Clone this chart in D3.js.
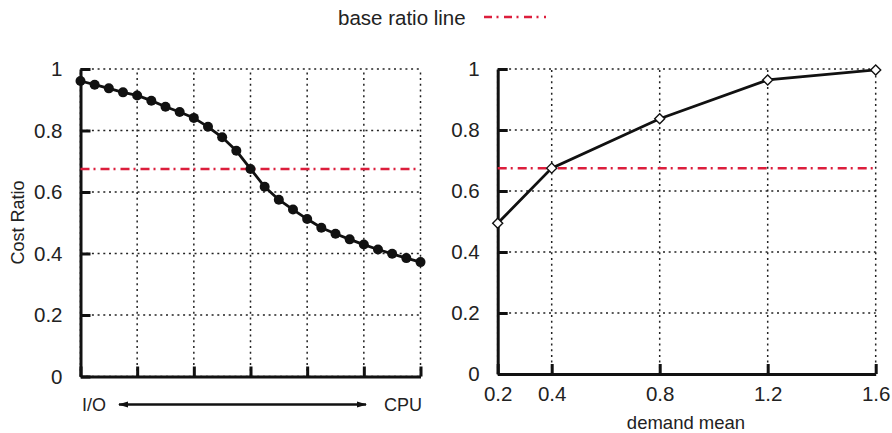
<!DOCTYPE html>
<html>
<head>
<meta charset="utf-8">
<script src="https://cdn.jsdelivr.net/npm/d3@7"></script>
<style>
  html, body { margin: 0; padding: 0; background: #fff; }
  svg { display: block; font-family: "Liberation Sans", Arial, Helvetica, sans-serif; }
</style>
</head>
<body>
<svg id="chart" width="892" height="433"></svg>
<script>
// ---------- data ----------
const mixSteps = [0,1,2,3,4,5,6,7,8,9,10,11,12,13,14,15,16,17,18,19,20,21,22,23,24];
const mixCostRatio = [0.961,0.949,0.937,0.924,0.914,0.897,0.877,0.860,0.841,0.812,0.778,0.734,0.675,
                      0.617,0.575,0.543,0.512,0.484,0.464,0.446,0.429,0.413,0.399,0.385,0.372];
const mixGridSteps = [0,4,8,12,16,20,24];
const demandMeans = [0.2,0.4,0.8,1.2,1.6];
const demandCostRatio = [0.494,0.675,0.837,0.964,0.997];
const demandTicks = [0.2,0.4,0.8,1.2,1.6];
const demandTickLabels = ["0.2","0.4","0.8","1.2","1.6"];
const yTicks = [0,0.2,0.4,0.6,0.8,1];
const yTickLabels = ["0","0.2","0.4","0.6","0.8","1"];
const baseRatio = 0.675;
const legendLabel = "base ratio line";
const yAxisTitle = "Cost Ratio";
const xAxisTitleRight = "demand mean";
const leftEndLabels = ["I/O","CPU"];

// ---------- drawing ----------
const svg = d3.select("#chart");
const RED = "#dc1e3c";
const gridDash = "2,3.7";
const redDash = "9,4,2,5";

const defs = svg.append("defs");
["arrowEnd","arrowStart"].forEach((id, i) => {
  defs.append("marker").attr("id", id)
    .attr("viewBox", "0 0 10 10").attr("refX", i === 0 ? 9 : 1).attr("refY", 5)
    .attr("markerWidth", 4.2).attr("markerHeight", 4.2)
    .attr("markerUnits", "strokeWidth")
    .attr("orient", "auto")
    .append("path")
    .attr("d", i === 0 ? "M0,2 L10,5 L0,8 Z" : "M10,2 L0,5 L10,8 Z")
    .attr("fill", "#111");
});

function drawPanel(cfg) {
  const g = svg.append("g");
  const x = cfg.x, y = cfg.y;
  const [x0, x1] = x.range();
  const [y0, y1] = y.range(); // y0 bottom, y1 top

  // grid (vertical)
  g.selectAll(".vg").data(cfg.gridX).join("line")
    .attr("x1", d => x(d)).attr("x2", d => x(d))
    .attr("y1", y0).attr("y2", y1)
    .attr("stroke", "#222").attr("stroke-width", 1.5)
    .attr("stroke-dasharray", gridDash);
  // grid (horizontal)
  g.selectAll(".hg").data(yTicks).join("line")
    .attr("x1", x0).attr("x2", x1)
    .attr("y1", d => y(d)).attr("y2", d => y(d))
    .attr("stroke", "#222").attr("stroke-width", 1.5)
    .attr("stroke-dasharray", gridDash);

  // axes via d3 (inward ticks)
  const yAxis = d3.axisLeft(y).tickValues(yTicks)
    .tickFormat((d, i) => yTickLabels[i]).tickSizeInner(-10).tickSizeOuter(0).tickPadding(18);
  const gy = g.append("g").attr("transform", `translate(${x0},0)`).call(yAxis);
  gy.select(".domain").attr("stroke", "#111").attr("stroke-width", 3);
  gy.selectAll(".tick line").attr("stroke", "#111").attr("stroke-width", 3);
  gy.selectAll(".tick text").attr("font-size", 20.5).attr("fill", "#222")
    .attr("font-family", "Liberation Sans, Arial, sans-serif");

  const xAxis = d3.axisBottom(x).tickValues(cfg.tickX)
    .tickFormat((d, i) => cfg.tickLabels ? cfg.tickLabels[i] : "")
    .tickSizeInner(-10).tickSizeOuter(0).tickPadding(12);
  const gx = g.append("g").attr("transform", `translate(0,${y0})`).call(xAxis);
  gx.select(".domain").attr("stroke", "#111").attr("stroke-width", 3);
  gx.selectAll(".tick line").attr("stroke", "#111").attr("stroke-width", 3);
  gx.selectAll(".tick text").attr("font-size", 20.5).attr("fill", "#222")
    .attr("font-family", "Liberation Sans, Arial, sans-serif");

  // base ratio line
  g.append("line")
    .attr("x1", x0).attr("x2", x1)
    .attr("y1", y(baseRatio)).attr("y2", y(baseRatio))
    .attr("stroke", RED).attr("stroke-width", 2.5)
    .attr("stroke-dasharray", redDash);

  // series
  const line = d3.line().x(d => x(d[0])).y(d => y(d[1]));
  const pts = cfg.xs.map((v, i) => [v, cfg.ys[i]]);
  g.append("path").datum(pts).attr("d", line)
    .attr("fill", "none").attr("stroke", "#111").attr("stroke-width", 2.8);

  if (cfg.marker === "circle") {
    g.selectAll(".pt").data(pts).join("circle")
      .attr("cx", d => x(d[0])).attr("cy", d => y(d[1])).attr("r", 5)
      .attr("fill", "#111");
  } else {
    const sym = d3.symbol().type(d3.symbolDiamond2).size(64);
    g.selectAll(".pt").data(pts).join("path")
      .attr("transform", d => `translate(${x(d[0])},${y(d[1])})`)
      .attr("d", sym)
      .attr("fill", "#fff").attr("stroke", "#111").attr("stroke-width", 1.4);
  }
  return g;
}

// left panel
const xL = d3.scaleLinear().domain([0, 24]).range([80.5, 420.5]);
const yL = d3.scaleLinear().domain([0, 1]).range([376.5, 69]);
drawPanel({ x: xL, y: yL, gridX: mixGridSteps, tickX: mixGridSteps, tickLabels: null,
            xs: mixSteps, ys: mixCostRatio, marker: "circle" });

// right panel
const xR = d3.scaleLinear().domain([0.2, 1.6]).range([497.7, 875.7]);
const yR = d3.scaleLinear().domain([0, 1]).range([374, 69]);
drawPanel({ x: xR, y: yR, gridX: demandTicks, tickX: demandTicks, tickLabels: demandTickLabels,
            xs: demandMeans, ys: demandCostRatio, marker: "diamond" });

// y-axis title
svg.append("text")
  .attr("transform", "translate(24,222.5) rotate(-90)")
  .attr("text-anchor", "middle")
  .attr("font-size", 18).attr("fill", "#222")
  .text(yAxisTitle);

// left end labels + arrow
svg.append("text").attr("x", 82).attr("y", 411).attr("font-size", 18).attr("fill", "#222")
  .text(leftEndLabels[0]);
svg.append("text").attr("x", 422).attr("y", 411).attr("text-anchor", "end")
  .attr("font-size", 18).attr("fill", "#222").text(leftEndLabels[1]);
svg.append("line")
  .attr("x1", 119).attr("x2", 366).attr("y1", 404.5).attr("y2", 404.5)
  .attr("stroke", "#111").attr("stroke-width", 2.4)
  .attr("marker-start", "url(#arrowStart)").attr("marker-end", "url(#arrowEnd)");

// right x title
svg.append("text").attr("x", 686).attr("y", 429).attr("text-anchor", "middle")
  .attr("font-size", 18.5).attr("fill", "#222").text(xAxisTitleRight);

// legend
svg.append("text").attr("x", 338).attr("y", 25).attr("font-size", 20.5).attr("fill", "#222")
  .text(legendLabel);
svg.append("line").attr("x1", 484).attr("x2", 546).attr("y1", 17).attr("y2", 17)
  .attr("stroke", RED).attr("stroke-width", 2.5).attr("stroke-dasharray", "8,4.5,2,5.5");
</script>
</body>
</html>
